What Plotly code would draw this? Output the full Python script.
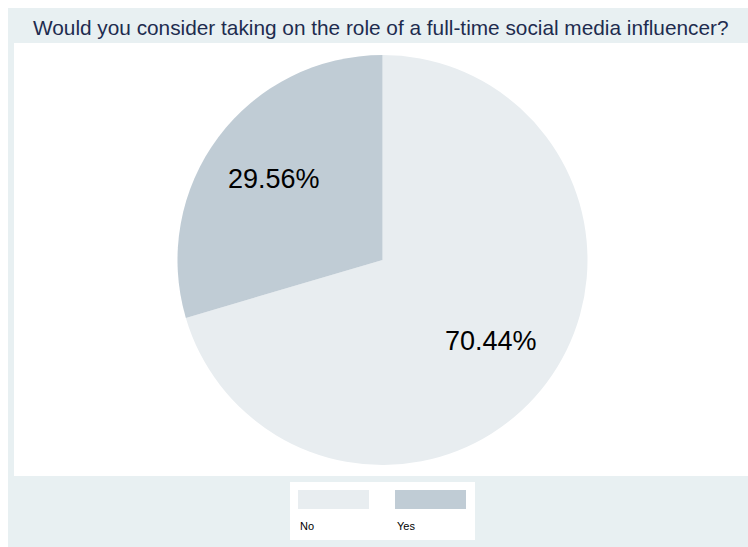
import math
import plotly.graph_objects as go

# Survey answers and their shares (percent)
answers = ["No", "Yes"]
shares = [70.44, 29.56]
slice_colors = ["#e8edf0", "#c0ccd5"]

title_text = "Would you consider taking on the role of a full-time social media influencer?"

W, H = 748, 547
OUTER = "#e8f0f2"
FONT = "Liberation Sans, Arial, sans-serif"

# pie geometry in pixels
CX, CY, R = 382.5, 260.0, 205.0


def px_x(x):
    return x / W


def px_y(y):
    return 1 - y / H


fig = go.Figure()

fig.add_trace(go.Pie(
    labels=answers,
    values=shares,
    sort=False,
    direction="clockwise",
    rotation=0,
    marker=dict(colors=slice_colors, line=dict(width=0)),
    textinfo="none",
    hoverinfo="label+percent",
    showlegend=False,
    domain=dict(x=[px_x(CX - R), px_x(CX + R)], y=[px_y(CY + R), px_y(CY - R)]),
))

shapes = [
    # graph region
    dict(type="rect", xref="paper", yref="paper", layer="below",
         x0=px_x(8), x1=1, y0=0, y1=px_y(8),
         fillcolor=OUTER, line=dict(width=0)),
    # plot region
    dict(type="rect", xref="paper", yref="paper", layer="below",
         x0=px_x(14), x1=1, y0=px_y(476), y1=px_y(43),
         fillcolor="#ffffff", line=dict(width=0)),
    # legend box
    dict(type="rect", xref="paper", yref="paper", layer="below",
         x0=px_x(290), x1=px_x(475), y0=px_y(540), y1=px_y(482),
         fillcolor="#ffffff", line=dict(width=0)),
]

annotations = []

# slice labels placed at two thirds of the radius, mid-angle of each slice
total = sum(shares)
start = 0.0
for val in shares:
    span = 360.0 * val / total
    mid = start + span / 2  # clockwise from 12 o'clock
    a = math.radians(90 - mid)
    x = CX + 0.66 * R * math.cos(a)
    y = CY - 0.66 * R * math.sin(a)
    annotations.append(dict(text=f"{val:.2f}%", xref="paper", yref="paper",
                            x=px_x(x), y=px_y(y), xanchor="center", yanchor="middle",
                            showarrow=False,
                            font=dict(family=FONT, size=27, color="#000000")))
    start += span

key_x = [298, 395]
for i, (name, col) in enumerate(zip(answers, slice_colors)):
    x0 = key_x[i]
    shapes.append(dict(type="rect", xref="paper", yref="paper",
                       x0=px_x(x0), x1=px_x(x0 + 71), y0=px_y(509), y1=px_y(490),
                       fillcolor=col, line=dict(width=0)))
    annotations.append(dict(text=name, xref="paper", yref="paper",
                            x=px_x(x0), y=px_y(526), xanchor="left", yanchor="middle",
                            showarrow=False,
                            font=dict(family=FONT, size=11, color="#000000")))

annotations.append(dict(text=title_text, xref="paper", yref="paper",
                        x=px_x(381), y=px_y(27), xanchor="center", yanchor="middle",
                        showarrow=False,
                        font=dict(family=FONT, size=20.8, color="#1e2c4f")))

fig.update_layout(
    width=W, height=H,
    margin=dict(l=0, r=0, t=0, b=0),
    paper_bgcolor="#ffffff",
    plot_bgcolor="#ffffff",
    shapes=shapes,
    annotations=annotations,
)

fig.write_html("out.html")
